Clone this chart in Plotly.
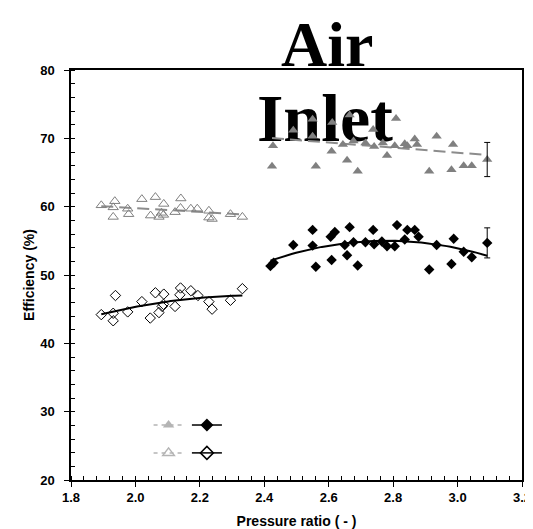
import numpy as np
import plotly.graph_objects as go

# ---------------- data ----------------
# open triangles (low-pressure series, upper)
otri_x = [1.894, 1.936, 1.931, 1.931, 1.976, 1.979, 2.020, 2.062, 2.088, 2.047, 2.073, 2.081,
          2.087, 2.141, 2.140, 2.123, 2.172, 2.192, 2.228, 2.228, 2.238, 2.295, 2.332]
otri_y = [60.2, 60.8, 59.9, 58.5, 59.7, 58.9, 61.1, 61.4, 60.4, 58.7, 58.5, 59.1,
          58.8, 61.2, 59.8, 59.2, 59.7, 59.7, 59.4, 58.4, 58.2, 58.9, 58.5]

# open diamonds (low-pressure series, lower)
odia_x = [1.894, 1.931, 1.931, 1.938, 1.976, 2.020, 2.046, 2.062, 2.088, 2.073, 2.083,
          2.087, 2.123, 2.140, 2.138, 2.172, 2.194, 2.228, 2.238, 2.295, 2.332]
odia_y = [44.2, 44.4, 43.3, 47.0, 44.6, 46.1, 43.7, 47.4, 47.2, 44.5, 45.4,
          45.7, 45.4, 48.1, 47.1, 47.7, 47.0, 46.1, 45.0, 46.3, 48.0]

# filled triangles (high-pressure series, upper)
ftri_x = [2.424, 2.427, 2.490, 2.550, 2.550, 2.560, 2.611, 2.609, 2.665, 2.644, 2.657,
          2.677, 2.690, 2.714, 2.738, 2.741, 2.768, 2.781, 2.809, 2.805, 2.836, 2.844,
          2.867, 2.874, 2.912, 2.935, 2.981, 2.986, 3.019, 3.044, 3.092]
ftri_y = [65.9, 68.9, 71.2, 72.8, 70.3, 65.9, 72.3, 68.1, 73.4, 69.1, 66.8,
          69.6, 65.2, 69.3, 71.3, 68.8, 69.3, 67.5, 72.9, 68.9, 69.2, 68.9,
          69.9, 69.1, 65.2, 70.3, 65.4, 69.1, 66.0, 66.0, 66.9]
ftri_err = 2.5

# filled diamonds (high-pressure series, lower)
fdia_x = [2.419, 2.429, 2.490, 2.550, 2.550, 2.560, 2.606, 2.619, 2.609, 2.665, 2.657,
          2.650, 2.677, 2.690, 2.714, 2.738, 2.741, 2.765, 2.781, 2.805, 2.812, 2.836,
          2.844, 2.867, 2.879, 2.912, 2.935, 2.981, 2.988, 3.019, 3.044, 3.092]
fdia_y = [51.3, 51.8, 54.4, 56.6, 54.3, 51.2, 55.6, 56.3, 52.2, 57.0, 52.9,
          54.4, 54.8, 51.4, 54.8, 56.6, 54.5, 54.9, 54.2, 54.2, 57.3, 55.2,
          56.6, 56.6, 55.6, 50.8, 54.4, 51.6, 55.3, 53.4, 52.6, 54.7]
fdia_err = 2.2

x_ticks = [1.8, 2.0, 2.2, 2.4, 2.6, 2.8, 3.0, 3.2]
y_ticks = [20, 30, 40, 50, 60, 70, 80]

GRAY = "#808080"
LIGHT = "#b4b4b4"


def trend(x, y, deg):
    c = np.polyfit(x, y, deg)
    xs = np.linspace(min(x), max(x), 60)
    return xs, np.polyval(c, xs)


fig = go.Figure()

# trend lines
tx, ty = trend(otri_x, otri_y, 1)
fig.add_trace(go.Scatter(x=tx, y=ty, mode="lines", line=dict(color="#8c8c8c", width=2, dash="12px,6px"),
                         showlegend=False, hoverinfo="skip"))
tx, ty = trend(ftri_x, ftri_y, 1)
fig.add_trace(go.Scatter(x=tx, y=ty, mode="lines", line=dict(color="#8c8c8c", width=2, dash="12px,6px"),
                         showlegend=False, hoverinfo="skip"))
tx, ty = trend(odia_x, odia_y, 2)
fig.add_trace(go.Scatter(x=tx, y=ty, mode="lines", line=dict(color="black", width=2),
                         showlegend=False, hoverinfo="skip"))
tx, ty = trend(fdia_x, fdia_y, 2)
fig.add_trace(go.Scatter(x=tx, y=ty, mode="lines", line=dict(color="black", width=2),
                         showlegend=False, hoverinfo="skip"))

# markers
fig.add_trace(go.Scatter(x=otri_x, y=otri_y, mode="markers", showlegend=False,
                         marker=dict(symbol="triangle-up-open", size=9, color=GRAY, line=dict(width=1, color=GRAY))))
fig.add_trace(go.Scatter(x=odia_x, y=odia_y, mode="markers", showlegend=False,
                         marker=dict(symbol="diamond-open", size=8, color="black", line=dict(width=1, color="black"))))
fig.add_trace(go.Scatter(x=ftri_x, y=ftri_y, mode="markers", showlegend=False,
                         marker=dict(symbol="triangle-up", size=9, color=GRAY)))
fig.add_trace(go.Scatter(x=fdia_x, y=fdia_y, mode="markers", showlegend=False,
                         marker=dict(symbol="diamond", size=8, color="black")))

# error bars on the last point of the high-pressure series
fig.add_trace(go.Scatter(x=[ftri_x[-1]], y=[ftri_y[-1]], mode="markers", showlegend=False,
                         marker=dict(size=1, opacity=0),
                         error_y=dict(type="data", array=[ftri_err], color="black", thickness=1, width=3)))
fig.add_trace(go.Scatter(x=[fdia_x[-1]], y=[fdia_y[-1]], mode="markers", showlegend=False,
                         marker=dict(size=1, opacity=0),
                         error_y=dict(type="data", array=[fdia_err], color="black", thickness=1, width=3)))

# legend entries (no labels in the original), one legend per entry
fig.add_trace(go.Scatter(x=[None], y=[None], name="", mode="lines+markers", legend="legend",
                         line=dict(color=LIGHT, width=1.5, dash="4px,4px"),
                         marker=dict(symbol="triangle-up", size=10, color=LIGHT)))
fig.add_trace(go.Scatter(x=[None], y=[None], name="", mode="lines+markers", legend="legend2",
                         line=dict(color="black", width=1.5),
                         marker=dict(symbol="diamond", size=10, color="black")))
fig.add_trace(go.Scatter(x=[None], y=[None], name="", mode="lines+markers", legend="legend3",
                         line=dict(color=LIGHT, width=1.5, dash="4px,4px"),
                         marker=dict(symbol="triangle-up-open", size=10, color=LIGHT, line=dict(width=1.5, color=LIGHT))))
fig.add_trace(go.Scatter(x=[None], y=[None], name="", mode="lines+markers", legend="legend4",
                         line=dict(color="black", width=1.5),
                         marker=dict(symbol="diamond-open", size=10, color="black", line=dict(width=1.5, color="black"))))

axis_font = dict(family="Liberation Sans, Arial, sans-serif", size=13, color="black")
title_font = dict(family="Liberation Sans, Arial, sans-serif", size=14, color="black")
serif = "Liberation Serif, Times New Roman, serif"


def leg(x, y):
    return dict(orientation="h", x=x, xanchor="left", y=y, yanchor="middle",
                bgcolor="rgba(0,0,0,0)", borderwidth=0, itemwidth=30)


fig.update_layout(
    width=533, height=529,
    margin=dict(l=63, r=10, t=62, b=57),
    paper_bgcolor="white", plot_bgcolor="rgba(0,0,0,0)",
    font=axis_font,
    xaxis=dict(range=[1.8, 3.2], tickvals=x_ticks, ticktext=[f"<b>{v:.1f}</b>" for v in x_ticks],
               showgrid=False, zeroline=False, showline=True, mirror=True, linecolor="black", linewidth=1.5,
               ticks="outside", ticklen=5, tickcolor="black", tickwidth=1, ticklabeloverflow="allow",
               minor=dict(dtick=0.04, ticks="inside", ticklen=4, tickcolor="black", tickwidth=1, showgrid=False),
               title=dict(text="<b>Pressure ratio ( - )</b>", font=title_font, standoff=12)),
    yaxis=dict(range=[20, 80], tickvals=y_ticks, ticktext=[f"<b>{v}</b>" for v in y_ticks],
               showgrid=False, zeroline=False, showline=True, mirror=True, linecolor="black", linewidth=1.5,
               ticks="outside", ticklen=5, tickcolor="black", tickwidth=1, ticklabelstandoff=7,
               minor=dict(dtick=2, ticks="inside", ticklen=4, tickcolor="black", tickwidth=1, showgrid=False),
               title=dict(text="<b>Efficiency (%)</b>", font=title_font, standoff=2)),
    legend=leg(0.172, 0.134),
    legend2=leg(0.257, 0.134),
    legend3=leg(0.172, 0.066),
    legend4=leg(0.257, 0.066),
    annotations=[dict(text="<b>Air</b>", xref="paper", yref="paper", x=0.567, y=1.1512,
                      xanchor="center", yanchor="top", showarrow=False, borderpad=0,
                      font=dict(family=serif, size=64, color="black"))],
    shapes=[dict(type="rect", xref="paper", yref="paper", x0=0.463, x1=0.663, y0=0.839, y1=0.959,
                 line=dict(width=0), fillcolor="rgba(0,0,0,0)", layer="below",
                 label=dict(text="<b>Inlet</b>", textposition="middle center",
                            font=dict(family=serif, size=68, color="black")))],
)

fig.write_html("out.html")
